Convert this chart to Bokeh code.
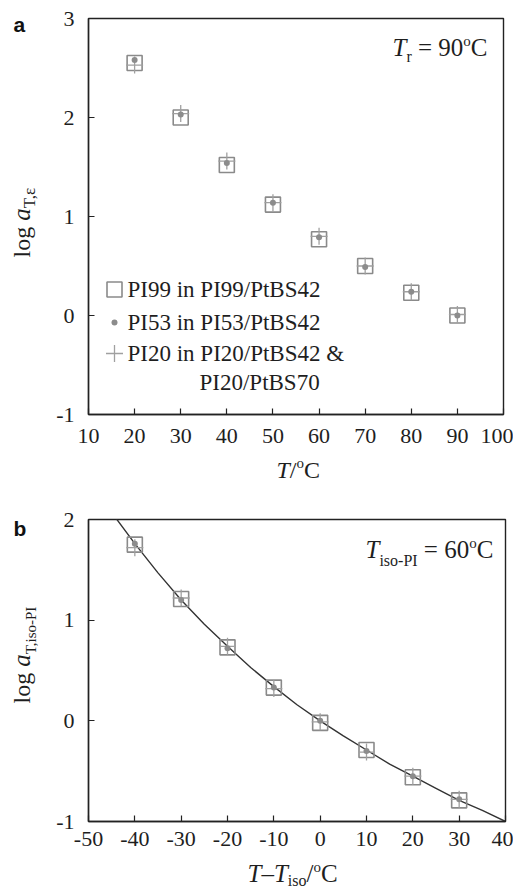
import math
from bokeh.plotting import figure
from bokeh.models import Label, Range1d, FixedTicker
from bokeh.layouts import column, row
from bokeh.embed import file_html
from bokeh.resources import INLINE

# ---------------- data ----------------
temp_a = [20, 30, 40, 50, 60, 70, 80, 90]
pi99_a = [2.55, 2.00, 1.52, 1.12, 0.77, 0.50, 0.23, 0.00]
pi53_a = [2.58, 2.03, 1.54, 1.14, 0.79, 0.49, 0.24, 0.00]
pi20_a = [2.53, 2.04, 1.56, 1.14, 0.80, 0.50, 0.24, 0.01]

dtemp_b = [-40, -30, -20, -10, 0, 10, 20, 30]
pi99_b = [1.75, 1.21, 0.73, 0.33, -0.02, -0.29, -0.56, -0.79]
pi53_b = [1.76, 1.20, 0.72, 0.33, 0.00, -0.30, -0.55, -0.78]
pi20_b = [1.72, 1.22, 0.74, 0.32, -0.01, -0.31, -0.55, -0.78]

fit_x = [-46, -45, -40, -35, -30, -25, -20, -15, -10, -5, 0, 5, 10, 15, 20, 25, 30, 35, 40, 42]
fit_y = [2.14, 2.07, 1.76, 1.47, 1.20, 0.96, 0.74, 0.53, 0.34, 0.16, 0.00, -0.15, -0.29,
         -0.43, -0.55, -0.67, -0.79, -0.89, -1.00, -1.04]

xticks_a = [10, 20, 30, 40, 50, 60, 70, 80, 90, 100]
yticks_a = [-1, 0, 1, 2, 3]
xticks_b = [-50, -40, -30, -20, -10, 0, 10, 20, 30, 40]
yticks_b = [-1, 0, 1, 2]

legend_labels = ["PI99 in PI99/PtBS42", "PI53 in PI53/PtBS42", "PI20 in PI20/PtBS42 &", "PI20/PtBS70"]

# ---------------- styling ----------------
SERIF = "Liberation Serif"
TXT = "#1e1e1e"
SQ_COL = "#8a8a8a"
DOT_COL = "#8c8c8c"
PLUS_COL = "#a0a0a0"
BASE_K = 0.33    # label anchor sits this many em above the drawn baseline

W_REG = {' ': .25, '=': .564, 'C': .667, 'o': .5, 'l': .278, 'g': .5, 'i': .278, 's': .389,
         '-': .333, 'P': .556, 'I': .333, 'T': .611, ',': .25, 'r': .333, '/': .278,
         '\u2013': .5, 'n': .5, 't': .278, 'B': .667, 'S': .556, '&': .778, '\u03b5': .44}
W_IT = {'T': .556, 'a': .5}


def tw(text, size, style):
    tot = 0
    for ch in text:
        if ch.isdigit():
            tot += .5
        elif style == "italic" and ch in W_IT:
            tot += W_IT[ch]
        else:
            tot += W_REG.get(ch, .5)
    return tot * size


def put(p, conv, px, py, text, size, style="normal", font=SERIF, vertical=False, color=TXT):
    k = BASE_K * size
    if vertical:
        px = px - k
    else:
        py = py - k
    X, Y = conv(px, py)
    p.add_layout(Label(x=X, y=Y, text=text, text_font=font, text_font_size=f"{size}px",
                       text_font_style=style, text_align="left", text_baseline="alphabetic",
                       angle=(math.pi / 2 if vertical else 0), text_color=color))


def rich(p, conv, x0, y0, segs, vertical=False):
    cur = 0.0
    for text, size, style, dy in segs:
        stripped = text.strip(" ")
        cur += (len(text) - len(text.lstrip(" "))) * .25 * size
        if vertical:
            put(p, conv, x0 + dy, y0 - cur, stripped, size, style, vertical=True)
        else:
            put(p, conv, x0 + cur, y0 + dy, stripped, size, style)
        cur += tw(stripped, size, style)
        cur += (len(text) - len(text.rstrip(" "))) * .25 * size


def strip(w, h, y_top, y_bot):
    # text-only figure; its drawable frame spans page rows y_top..y_bot
    p = figure(width=w, height=h, title=None, min_border=0, x_range=Range1d(0, w),
               y_range=Range1d(-y_bot, -y_top), x_axis_location=None, y_axis_location=None,
               toolbar_location=None, output_backend="svg", outline_line_color=None,
               background_fill_color="white", border_fill_color="white")
    p.grid.visible = False

    def conv(px, py):
        return px, -py
    return p, conv


def style_fig(p, xt, yt, xstand):
    p.grid.visible = False
    p.outline_line_color = "#222222"
    p.outline_line_width = 1.4
    for ax in (p.xaxis[0], p.yaxis[0]):
        ax.major_tick_in = 6
        ax.major_tick_out = 0
        ax.minor_tick_line_color = None
        ax.axis_line_color = "#222222"
        ax.axis_line_width = 1.4
        ax.major_tick_line_color = "#222222"
        ax.major_tick_line_width = 1.2
        ax.major_label_text_font = SERIF
        ax.major_label_text_font_size = "22px"
        ax.major_label_text_color = TXT
    p.xaxis[0].ticker = FixedTicker(ticks=xt)
    p.yaxis[0].ticker = FixedTicker(ticks=yt)
    p.xaxis[0].major_label_overrides = {t: str(t) for t in xt}
    p.yaxis[0].major_label_overrides = {t: str(t) for t in yt}
    p.xaxis[0].major_label_standoff = xstand
    p.yaxis[0].major_label_standoff = 14


def points(p, x, s1, s2, s3):
    p.scatter(x, s1, marker="square", size=15, fill_color=None, line_color=SQ_COL, line_width=1.6)
    p.scatter(x, s3, marker="cross", size=17, line_color=PLUS_COL, line_width=1.3)
    p.scatter(x, s2, marker="circle", size=6, fill_color=DOT_COL, line_color=None)


SW = 48          # left text strip width
FL = 88          # frame left (page px)

# ---------------- panel a ----------------
FW_A, FT_A, FH_A = 415, 18, 396
HA = 454
pa = figure(frame_width=FW_A, frame_height=FH_A, title=None, min_border_left=FL - SW,
            min_border_right=10, min_border_top=FT_A, min_border_bottom=HA - FT_A - FH_A,
            x_range=Range1d(10, 100), y_range=Range1d(-1, 3), output_backend="svg",
            toolbar_location=None, background_fill_color="white", border_fill_color="white")
style_fig(pa, xticks_a, yticks_a, 14)


def ca(px, py):
    return 10 + (px - FL) * 90 / FW_A, 3 - (py - FT_A) * 4 / FH_A


points(pa, temp_a, pi99_a, pi53_a, pi20_a)

# legend (manual)
kx, _ = ca(114, 0)
rows = [289, 322, 353]
pa.scatter([kx], [ca(0, rows[0])[1]], marker="square", size=15, fill_color=None,
           line_color=SQ_COL, line_width=1.6)
pa.scatter([kx], [ca(0, rows[1])[1]], marker="circle", size=6, fill_color=DOT_COL, line_color=None)
pa.scatter([kx], [ca(0, rows[2])[1]], marker="cross", size=17, line_color=PLUS_COL, line_width=1.3)
for lab, (lx, ly) in zip(legend_labels, [(127, 297), (127, 330), (127, 361), (199, 390)]):
    put(pa, ca, lx, ly, lab, 23)

rich(pa, ca, 392, 55, [("T", 25, "italic", 0), ("r", 16, "normal", 6), (" = 90", 25, "normal", 0),
                       ("o", 15, "normal", -10), ("C", 25, "normal", 0)])

left_a, cla = strip(SW, HA, FT_A, FT_A + FH_A)
rich(left_a, cla, 29, 257, [("log ", 24, "normal", 0), ("a", 25, "italic", 0),
                            ("T,\u03b5", 17, "normal", 6)], vertical=True)
put(left_a, cla, 13, 31, "a", 21, "bold", font="Liberation Sans", color="#111")

TOTW = SW + (FL - SW) + FW_A + 10
bot_a, cba = strip(TOTW, 45, HA, HA + 45)
rich(bot_a, cba, 276, 477, [("T", 24, "italic", 0), ("/", 24, "normal", 0), ("o", 15, "normal", -10),
                            ("C", 24, "normal", 0)])

# ---------------- panel b ----------------
YB0 = HA + 45
FW_B, FT_B, FH_B = 417, 519, 302
HB = 360
pb = figure(frame_width=FW_B, frame_height=FH_B, title=None, min_border_left=FL - SW,
            min_border_right=8, min_border_top=FT_B - YB0,
            min_border_bottom=HB - (FT_B - YB0) - FH_B,
            x_range=Range1d(-50, 40), y_range=Range1d(-1, 2), output_backend="svg",
            toolbar_location=None, background_fill_color="white", border_fill_color="white")
style_fig(pb, xticks_b, yticks_b, 10)


def cb(px, py):
    return -50 + (px - FL) * 90 / FW_B, 2 - (py - FT_B) * 3 / FH_B


pb.line(fit_x, fit_y, line_color="#333333", line_width=1.4)
points(pb, dtemp_b, pi99_b, pi53_b, pi20_b)

rich(pb, cb, 365, 557, [("T", 25, "italic", 0), ("iso-PI", 16, "normal", 8), (" = 60", 25, "normal", 0),
                        ("o", 15, "normal", -10), ("C", 25, "normal", 0)])

left_b, clb = strip(SW, HB, FT_B, FT_B + FH_B)
rich(left_b, clb, 29, 703, [("log ", 24, "normal", 0), ("a", 25, "italic", 0),
                            ("T,iso-PI", 15, "normal", 6)], vertical=True)
put(left_b, clb, 13, 535, "b", 21, "bold", font="Liberation Sans", color="#111")

YB1 = YB0 + HB
bot_b, cbb = strip(TOTW, 28, YB1, YB1 + 28)
rich(bot_b, cbb, 247, 881, [("T", 25, "italic", 0), ("\u2013", 25, "normal", 0), ("T", 25, "italic", 0),
                            ("iso", 16, "normal", 4), ("/", 25, "normal", 0), ("o", 15, "normal", -10),
                            ("C", 25, "normal", 0)])

layout = column(row(left_a, pa, spacing=0), bot_a, row(left_b, pb, spacing=0), bot_b, spacing=0)
open("out.html", "w").write(file_html(layout, INLINE))
